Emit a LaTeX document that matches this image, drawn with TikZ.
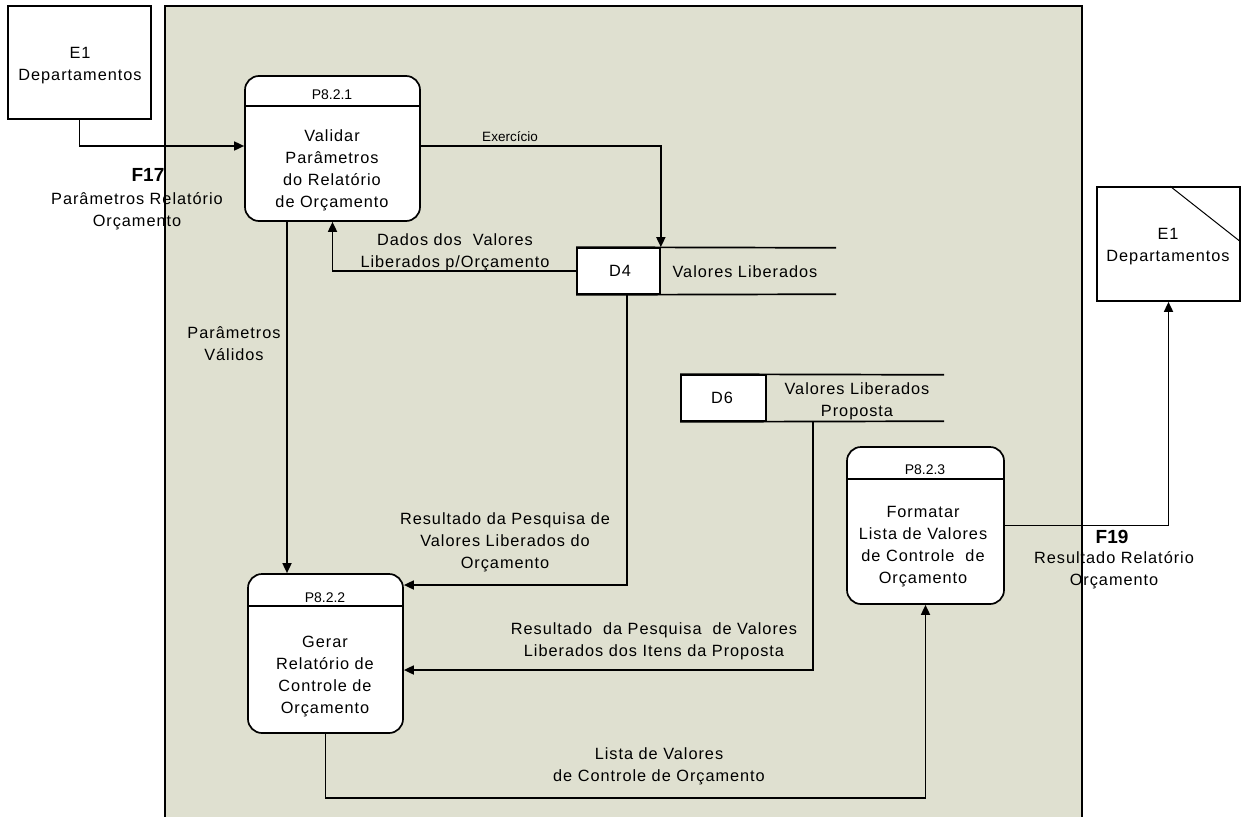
\documentclass[tikz,border=0pt]{standalone}
\usepackage{fontspec}
\setmainfont{Liberation Sans}[LetterSpace=6]
\newfontfamily\tightfont{Liberation Sans}
\usetikzlibrary{arrows.meta}
\definecolor{bggray}{RGB}{223,224,208}
\tikzset{
  flow/.style={line width=1.7pt,-{Triangle[length=10pt,width=9pt]}},
  plain/.style={line width=1.7pt},
  entity/.style={draw,line width=1.7pt,fill=white,inner sep=0pt},
  procbox/.style={draw,line width=1.7pt,fill=white,rounded corners=14pt,inner sep=0pt},
  storebox/.style={draw,line width=1.7pt,fill=white,inner sep=0pt},
  txt/.style={inner sep=0pt,align=center,font=\fontsize{16.3}{22}\selectfont},
  hdr/.style={inner sep=0pt,font=\tightfont\fontsize{14}{16}\selectfont},
  fnum/.style={inner sep=0pt,font=\tightfont\bfseries\fontsize{19}{22}\selectfont},
}
\begin{document}
\begin{tikzpicture}[x=1pt,y=-1pt]
\useasboundingbox (0,0) rectangle (1241,816);
% background area
\fill[bggray] (165,6) rectangle (1082,818);
\draw[plain] (165,818) -- (165,6) -- (1082,6) -- (1082,818);

% external entities
\node[entity,minimum width=143pt,minimum height=113pt] (e1a) at (79.5,62.5) {};
\node[txt] (e1at) at (80,66) {E1\\Departamentos};
\node[entity,minimum width=143pt,minimum height=114pt] (e1b) at (1168.5,244) {};
\draw[line width=1pt] ([xshift=1.5pt]e1b.north) -- ([yshift=2pt]e1b.east);
\node[txt] (e1bt) at (1168,247) {E1\\Departamentos};

% processes
\node[procbox,minimum width=175pt,minimum height=145pt] (p1) at (332.5,148.5) {};
\draw[plain] ([yshift=-31pt]p1.north west) -- ([yshift=-31pt]p1.north east);
\node[hdr] (p1h) at (332,95) {P8.2.1};
\node[txt] (p1t) at (332,170) {Validar\\Parâmetros\\do Relatório\\de Orçamento};

\node[procbox,minimum width=155pt,minimum height=159pt] (p2) at (325.5,653.5) {};
\draw[plain] ([yshift=-33pt]p2.north west) -- ([yshift=-33pt]p2.north east);
\node[hdr] (p2h) at (325,598) {P8.2.2};
\node[txt] (p2t) at (325,677) {Gerar\\Relatório de\\Controle de\\Orçamento};

\node[procbox,minimum width=157pt,minimum height=157pt] (p3) at (925.5,525.5) {};
\draw[plain] ([yshift=-33pt]p3.north west) -- ([yshift=-33pt]p3.north east);
\node[hdr] (p3h) at (925,470) {P8.2.3};
\node[txt] (p3t) at (923,547) {Formatar\\Lista de Valores\\de Controle\ \ de\\Orçamento};

% data stores
\node[storebox,minimum width=83pt,minimum height=46pt] (d4) at (618.5,271) {};
\node[inner sep=0pt,minimum width=176pt,minimum height=46pt] (d4l) at (748,271) {};
\draw[plain] (d4.north west) -- (d4l.north east);
\draw[plain] (d4.south west) -- (d4l.south east);
\node[txt] (d4t) at (620,271) {D4};
\node[txt] (d4lt) at (745,272) {Valores Liberados};

\node[storebox,minimum width=85pt,minimum height=46pt] (d6) at (723.5,398) {};
\node[inner sep=0pt,minimum width=178pt,minimum height=46pt] (d6l) at (855,398) {};
\draw[plain] (d6.north west) -- (d6l.north east);
\draw[plain] (d6.south west) -- (d6l.south east);
\node[txt] (d6t) at (722,398) {D6};
\node[txt] (d6lt) at (857,401) {Valores Liberados\\Proposta};

% flows
\draw[flow] (e1a.south) |- ([yshift=2.5pt]p1.west);
\node[fnum] (f17) at (148,175) {F17};
\node[txt] (f17t) at (137,211) {Parâmetros Relatório\\Orçamento};

\draw[flow] ([yshift=2.5pt]p1.east) -| (d4.north east);
\node[inner sep=0pt,font=\tightfont\fontsize{13.5}{16}\selectfont] (exl) at (510,137) {Exercício};

\draw[flow] (d4.west) -| (p1.south);
\node[txt] (dadl) at (455,252) {Dados dos\ \ Valores\\Liberados p/Orçamento};

\draw[flow] ([xshift=-45.5pt]p1.south) -- ([xshift=-38.5pt]p2.north);
\node[txt] (pvl) at (234,344) {Parâmetros\\Válidos};

\draw[flow] ([xshift=8.5pt]d4.south) |- ([yshift=68.5pt]p2.east);
\node[txt] (r1l) at (505,542) {Resultado da Pesquisa de\\Valores Liberados do\\Orçamento};

\draw[flow] ([xshift=-42pt]d6l.south) |- ([yshift=-16.5pt]p2.east);
\node[txt] (r2l) at (654,641) {Resultado\ \ da Pesquisa\ \ de Valores\\Liberados dos Itens da Proposta};

\draw[flow] (p2.south) -- ++(0,64) -| (p3.south);
\node[txt] (lsl) at (659,766) {Lista de Valores\\de Controle de Orçamento};

\draw[flow] (p3.east) -| (e1b.south);
\node[fnum] (f19) at (1112,537) {F19};
\node[txt] (f19t) at (1114,570) {Resultado Relatório\\Orçamento};
\end{tikzpicture}
\end{document}
